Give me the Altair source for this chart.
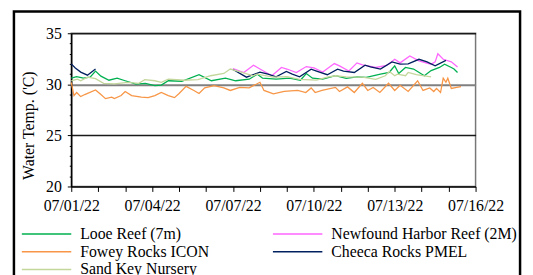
import altair as alt
import pandas as pd

# ---- data (days since 07/01/22, water temperature in deg C) ----
looe_t = [0.0, 0.2, 0.45, 0.7, 0.9, 1.1, 1.4, 1.7, 2.0, 2.4, 2.75, 3.1, 3.34, 3.6, 4.1, 4.74, 5.2, 5.72,
          6.1, 6.6, 6.9, 7.1, 7.6, 8.1, 8.5, 8.72, 8.95, 9.33, 9.8, 10.2, 10.6, 10.95, 11.47, 11.8, 11.9,
          12.0, 12.15, 12.4, 12.7, 13.1, 13.35, 13.66, 13.85, 14.1, 14.2, 14.33]
looe_v = [30.6, 30.75, 30.6, 30.7, 31.3, 30.8, 30.4, 30.6, 30.35, 30.03, 30.1, 29.87, 29.93, 30.35, 30.3, 30.94,
          30.35, 30.6, 30.35, 30.5, 31.0, 30.6, 30.5, 30.6, 30.4, 31.06, 30.6, 30.5, 30.84, 30.58, 30.74, 30.68,
          31.0, 31.16, 31.5, 31.8, 31.06, 31.65, 31.5, 30.84, 31.35, 31.65, 31.97, 31.65, 31.5, 31.16]

newf_t = [6.0, 6.4, 6.76, 7.0, 7.44, 7.8, 8.0, 8.35, 8.72, 9.0, 9.33, 9.76, 9.95, 10.3, 10.6, 10.8, 11.3,
          11.7, 12.0, 12.2, 12.56, 12.9, 13.35, 13.5, 13.6, 13.8, 14.1, 14.33]
newf_v = [31.55, 31.16, 31.87, 31.5, 30.84, 31.65, 31.5, 31.16, 31.74, 31.6, 31.2, 32.03, 31.8, 31.3, 32.1,
          31.9, 31.65, 31.85, 32.45, 32.1, 32.77, 32.3, 31.97, 32.2, 33.0, 32.45, 32.2, 31.7]

fowey_t = [0.0, 0.1, 0.2, 0.35, 0.5, 0.9, 1.1, 1.27, 1.5, 1.6, 1.85, 2.0, 2.24, 2.6, 2.85, 3.1, 3.34, 3.6,
           3.83, 4.0, 4.26, 4.55, 4.74, 4.95, 5.3, 5.66, 5.9, 6.25, 6.6, 7.0, 7.15, 7.5, 7.9, 8.4, 8.7, 8.9,
           9.05, 9.3, 9.8, 9.95, 10.25, 10.5, 10.8, 11.0, 11.2, 11.45, 11.77, 12.0, 12.2, 12.5, 12.85, 13.05,
           13.3, 13.45, 13.55, 13.7, 13.8, 13.9, 13.97, 14.1, 14.3, 14.46]
fowey_v = [30.2, 28.9, 29.2, 28.8, 29.0, 29.45, 29.0, 28.6, 28.75, 28.6, 28.9, 29.3, 28.9, 28.75, 28.7, 28.9,
           29.2, 28.9, 28.7, 29.1, 29.8, 29.4, 29.1, 29.65, 29.87, 29.65, 29.4, 29.7, 29.65, 30.2, 29.4, 29.06,
           29.3, 29.4, 29.2, 29.65, 29.2, 29.4, 29.7, 29.3, 29.75, 29.2, 30.1, 29.4, 29.7, 29.2, 30.1, 29.4,
           29.9, 29.3, 30.35, 29.4, 29.65, 29.3, 29.6, 29.2, 30.6, 30.2, 30.6, 29.6, 29.7, 29.77]

cheeca_t = [0.0, 0.15, 0.35, 0.6, 0.9,
            6.0, 6.5, 7.0, 7.3, 7.6, 7.98, 8.2, 8.47, 8.9, 9.1, 9.5, 9.88, 10.1, 10.5, 10.9, 11.1, 11.47,
            11.9, 12.2, 12.5, 12.9, 13.2, 13.5, 13.9]
cheeca_v = [32.0, 31.6, 31.2, 30.9, 31.5,
            31.45, 30.7, 31.2, 31.0, 30.74, 31.26, 31.0, 30.74, 31.48, 31.3, 30.94, 31.48, 31.3, 31.16, 31.87,
            31.7, 31.5, 32.19, 31.97, 32.0, 32.45, 32.2, 31.81, 32.35]
cheeca_seg = [1] * 5 + [2] * 24

sand_t = [0.0, 0.23, 0.35, 0.6, 0.9, 1.2, 1.6, 2.1, 2.5, 2.73, 3.1, 3.34, 3.6, 4.2, 4.7, 5.17, 5.66, 5.9,
          6.3, 6.75, 6.89, 7.5, 8.0, 8.47, 9.1, 9.5, 9.8, 10.2, 10.8, 11.3, 11.65, 11.8, 12.0, 12.1, 12.4,
          12.5, 12.8, 13.35]
sand_v = [30.35, 30.5, 30.35, 30.7, 30.55, 30.1, 30.05, 30.2, 30.1, 30.45, 30.35, 30.2, 30.5, 30.4, 30.45,
          30.84, 31.06, 31.5, 31.2, 30.84, 31.0, 30.7, 30.75, 30.48, 30.42, 30.7, 30.84, 30.74, 30.7, 30.48,
          30.84, 31.26, 30.84, 31.0, 30.84, 31.16, 30.94, 30.74]

# legend is filled column by column: left column first, then right column
series_names = ["Looe Reef (7m)", "Fowey Rocks ICON", "Sand Key Nursery",
                "Newfound Harbor Reef (2M)", "Cheeca Rocks PMEL"]
series_colors = ["#00B050", "#F79646", "#C3D69B", "#FF66FF", "#002060"]

y_ticks = list(range(20, 36))
x_days = list(range(1, 17))

# ---- build table ----
start = pd.Timestamp("2022-07-01")
rows = []
for name, ts, vs, segs in [
    ("Looe Reef (7m)", looe_t, looe_v, None),
    ("Newfound Harbor Reef (2M)", newf_t, newf_v, None),
    ("Fowey Rocks ICON", fowey_t, fowey_v, None),
    ("Cheeca Rocks PMEL", cheeca_t, cheeca_v, cheeca_seg),
    ("Sand Key Nursery", sand_t, sand_v, None),
]:
    for i, (t, v) in enumerate(zip(ts, vs)):
        stamp = start + pd.to_timedelta(t, unit="D")
        rows.append({
            "t": stamp.strftime("%Y-%m-%dT%H:%M:%SZ"),
            "temp": v,
            "series": name,
            "seg": name + str(segs[i] if segs else 1),
        })
df = pd.DataFrame(rows)

FONT = "Liberation Serif"
FS = 16

x_axis = alt.Axis(
    values=[alt.DateTime(year=2022, month=7, date=d, utc=True) for d in x_days],
    labelExpr="(utcdate(datum.value) - 1) % 3 === 0 ? utcFormat(datum.value, '%m/%d/%y') : ''",
    title=None, grid=False, domainColor="black", domainWidth=1.5,
    tickColor="black", tickSize=5, labelPadding=6,
    labelFontSize=FS, labelColor="black", labelFlush=False,
)

y_axis = alt.Axis(
    values=y_ticks,
    labelExpr="datum.value % 5 === 0 ? datum.label : ''",
    title="Water Temp. ('C)", titleFontSize=FS, titleFontWeight="normal",
    titleColor="black", titleX=-43, titleY=93, titleBaseline="middle", titleAngle=270,
    domainColor="black", domainWidth=1.5, tickColor="black",
    tickSize={"condition": {"test": "datum.value % 5 === 0", "value": 4}, "value": 2},
    grid=True,
    gridOpacity={"condition": {"test": "datum.value % 5 === 0 && datum.value > 20", "value": 1}, "value": 0},
    gridColor={"condition": {"test": "datum.value === 30", "value": "#808080"}, "value": "#1a1a1a"},
    gridWidth={"condition": {"test": "datum.value === 30", "value": 2}, "value": 1.5},
    labelFontSize=FS, labelColor="black", labelPadding=6,
)

lines = alt.Chart(df).mark_line(strokeWidth=1.3).encode(
    x=alt.X("t:T", scale=alt.Scale(type="utc",
                                   domain=[alt.DateTime(year=2022, month=7, date=1, utc=True),
                                           alt.DateTime(year=2022, month=7, date=16, utc=True)]),
            axis=x_axis),
    y=alt.Y("temp:Q", scale=alt.Scale(domain=[20, 35], nice=False, zero=False), axis=y_axis),
    color=alt.Color("series:N",
                    scale=alt.Scale(domain=series_names, range=series_colors),
                    sort=series_names,
                    legend=alt.Legend(orient="none", legendX=-33, legendY=195, columns=2,
                                      symbolType="M-10,0H10", symbolSize=25, symbolStrokeWidth=1.5,
                                      symbolFillColor="transparent",
                                      labelFontSize=FS, labelColor="black",
                                      title=None, rowPadding=2, columnPadding=61, labelOffset=26,
                                      padding=0, labelLimit=400)),
    detail="seg:N",
    order=alt.Order("t:T"),
)

frame = alt.Chart(pd.DataFrame({"a": [0]})).mark_rect(
    filled=False, stroke="black", strokeWidth=2.5
).encode(
    x=alt.value(-58), x2=alt.value(454), y=alt.value(-22), y2=alt.value(300)
)

chart = alt.layer(frame, lines).properties(
    width=409, height=155,
    autosize=alt.AutoSizeParams(type="none"),
    padding={"left": 64, "top": 24, "right": 50, "bottom": 88},
    background="white",
).configure(
    font=FONT
).configure_axis(
    labelFont=FONT, titleFont=FONT
).configure_legend(
    labelFont=FONT
).configure_view(stroke="#777777", strokeWidth=1.5)

chart.save("out.html", embed_options={"renderer": "svg", "actions": False})
